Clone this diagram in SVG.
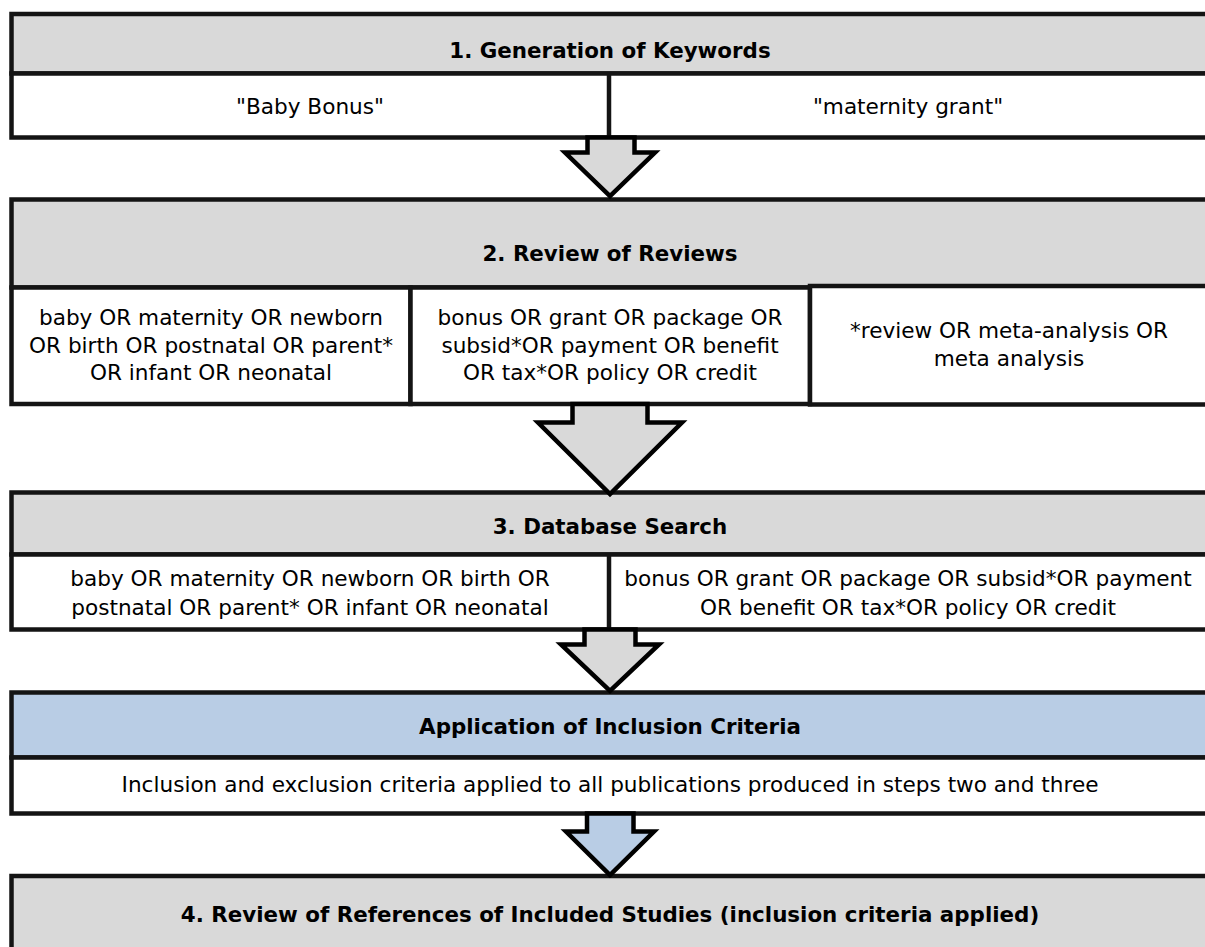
<svg xmlns="http://www.w3.org/2000/svg" width="1205" height="947" viewBox="0 0 1205 947">
<style>
.hd{fill:#D9D9D9;stroke:#141414;stroke-width:4.5}
.hb{fill:#B9CDE5;stroke:#141414;stroke-width:4.5}
.bd{fill:#FFFFFF;stroke:#141414;stroke-width:4.5}
.ln{stroke:#141414;stroke-width:4.5;fill:none}
.ar{fill:#D9D9D9;stroke:#000;stroke-width:4.5;stroke-linejoin:miter}
.arb{fill:#B9CDE5;stroke:#000;stroke-width:4.5;stroke-linejoin:miter}
text{font-family:"DejaVu Sans","Open Sans","Liberation Sans",sans-serif;fill:#000;text-anchor:middle}
.t{font-size:21.6px}
.b{font-size:21.4px;font-weight:bold}
</style>
<rect width="1205" height="947" fill="#FFFFFF"/>
<g id="step1">
<rect class="hd" x="11.5" y="14" width="1200" height="59.5"/>
<rect class="bd" x="11.5" y="73.5" width="1200" height="64"/>
<line class="ln" x1="609" y1="73.5" x2="609" y2="137.5"/>
<text class="b" x="610" y="57.5">1. Generation of Keywords</text>
<text class="t" x="310" y="113.5">"Baby Bonus"</text>
<text class="t" x="908" y="113.5">"maternity grant"</text>
</g>
<g id="step2">
<rect class="hd" x="11.5" y="199.5" width="1200" height="88"/>
<rect class="bd" x="11.5" y="287.5" width="399" height="116.5"/>
<rect class="bd" x="410.5" y="287.5" width="399.5" height="116.5"/>
<rect class="bd" x="810" y="286" width="400" height="118.5"/>
<text class="b" x="610" y="260.5">2. Review of Reviews</text>
<text class="t"><tspan x="211" y="325">baby OR maternity OR newborn</tspan><tspan x="211" y="352.5">OR birth OR postnatal OR parent*</tspan><tspan x="211" y="380">OR infant OR neonatal</tspan></text>
<text class="t"><tspan x="610" y="325">bonus OR grant OR package OR</tspan><tspan x="610" y="352.5">subsid*OR payment OR benefit</tspan><tspan x="610" y="380">OR tax*OR policy OR credit</tspan></text>
<text class="t"><tspan x="1009" y="338">*review OR meta-analysis OR</tspan><tspan x="1009" y="366">meta analysis</tspan></text>
</g>
<g id="step3">
<rect class="hd" x="11.5" y="492.5" width="1200" height="62"/>
<rect class="bd" x="11.5" y="554.5" width="1200" height="75"/>
<line class="ln" x1="609" y1="554.5" x2="609" y2="629.5"/>
<text class="b" x="610" y="533.5">3. Database Search</text>
<text class="t"><tspan x="310" y="586">baby OR maternity OR newborn OR birth OR</tspan><tspan x="310" y="615">postnatal OR parent* OR infant OR neonatal</tspan></text>
<text class="t"><tspan x="908" y="586">bonus OR grant OR package OR subsid*OR payment</tspan><tspan x="908" y="615">OR benefit OR tax*OR policy OR credit</tspan></text>
</g>
<g id="inclusion">
<rect class="hb" x="11.5" y="692.5" width="1200" height="65"/>
<rect class="bd" x="11.5" y="757.5" width="1200" height="56"/>
<text class="b" x="610" y="733.5">Application of Inclusion Criteria</text>
<text class="t" x="610" y="792">Inclusion and exclusion criteria applied to all publications produced in steps two and three</text>
</g>
<g id="step4">
<rect class="hd" x="11.5" y="876" width="1200" height="90"/>
<text class="b" x="610" y="922">4. Review of References of Included Studies (inclusion criteria applied)</text>
</g>
<g id="connectors">
<polygon class="ar" points="587.5,137.5 587.5,152.5 565,152.5 610,196 655,152.5 634.5,152.5 634.5,137.5"/>
<polygon class="ar" points="572.5,404 572.5,422.5 538,422.5 610,494 682,422.5 647.5,422.5 647.5,404"/>
<polygon class="ar" points="584.5,629.5 584.5,644.5 561,644.5 610,691 659,644.5 635.5,644.5 635.5,629.5"/>
<polygon class="arb" points="587,813.5 587,831.5 566,831.5 610,875 654,831.5 633.5,831.5 633.5,813.5"/>
</g>
</svg>
